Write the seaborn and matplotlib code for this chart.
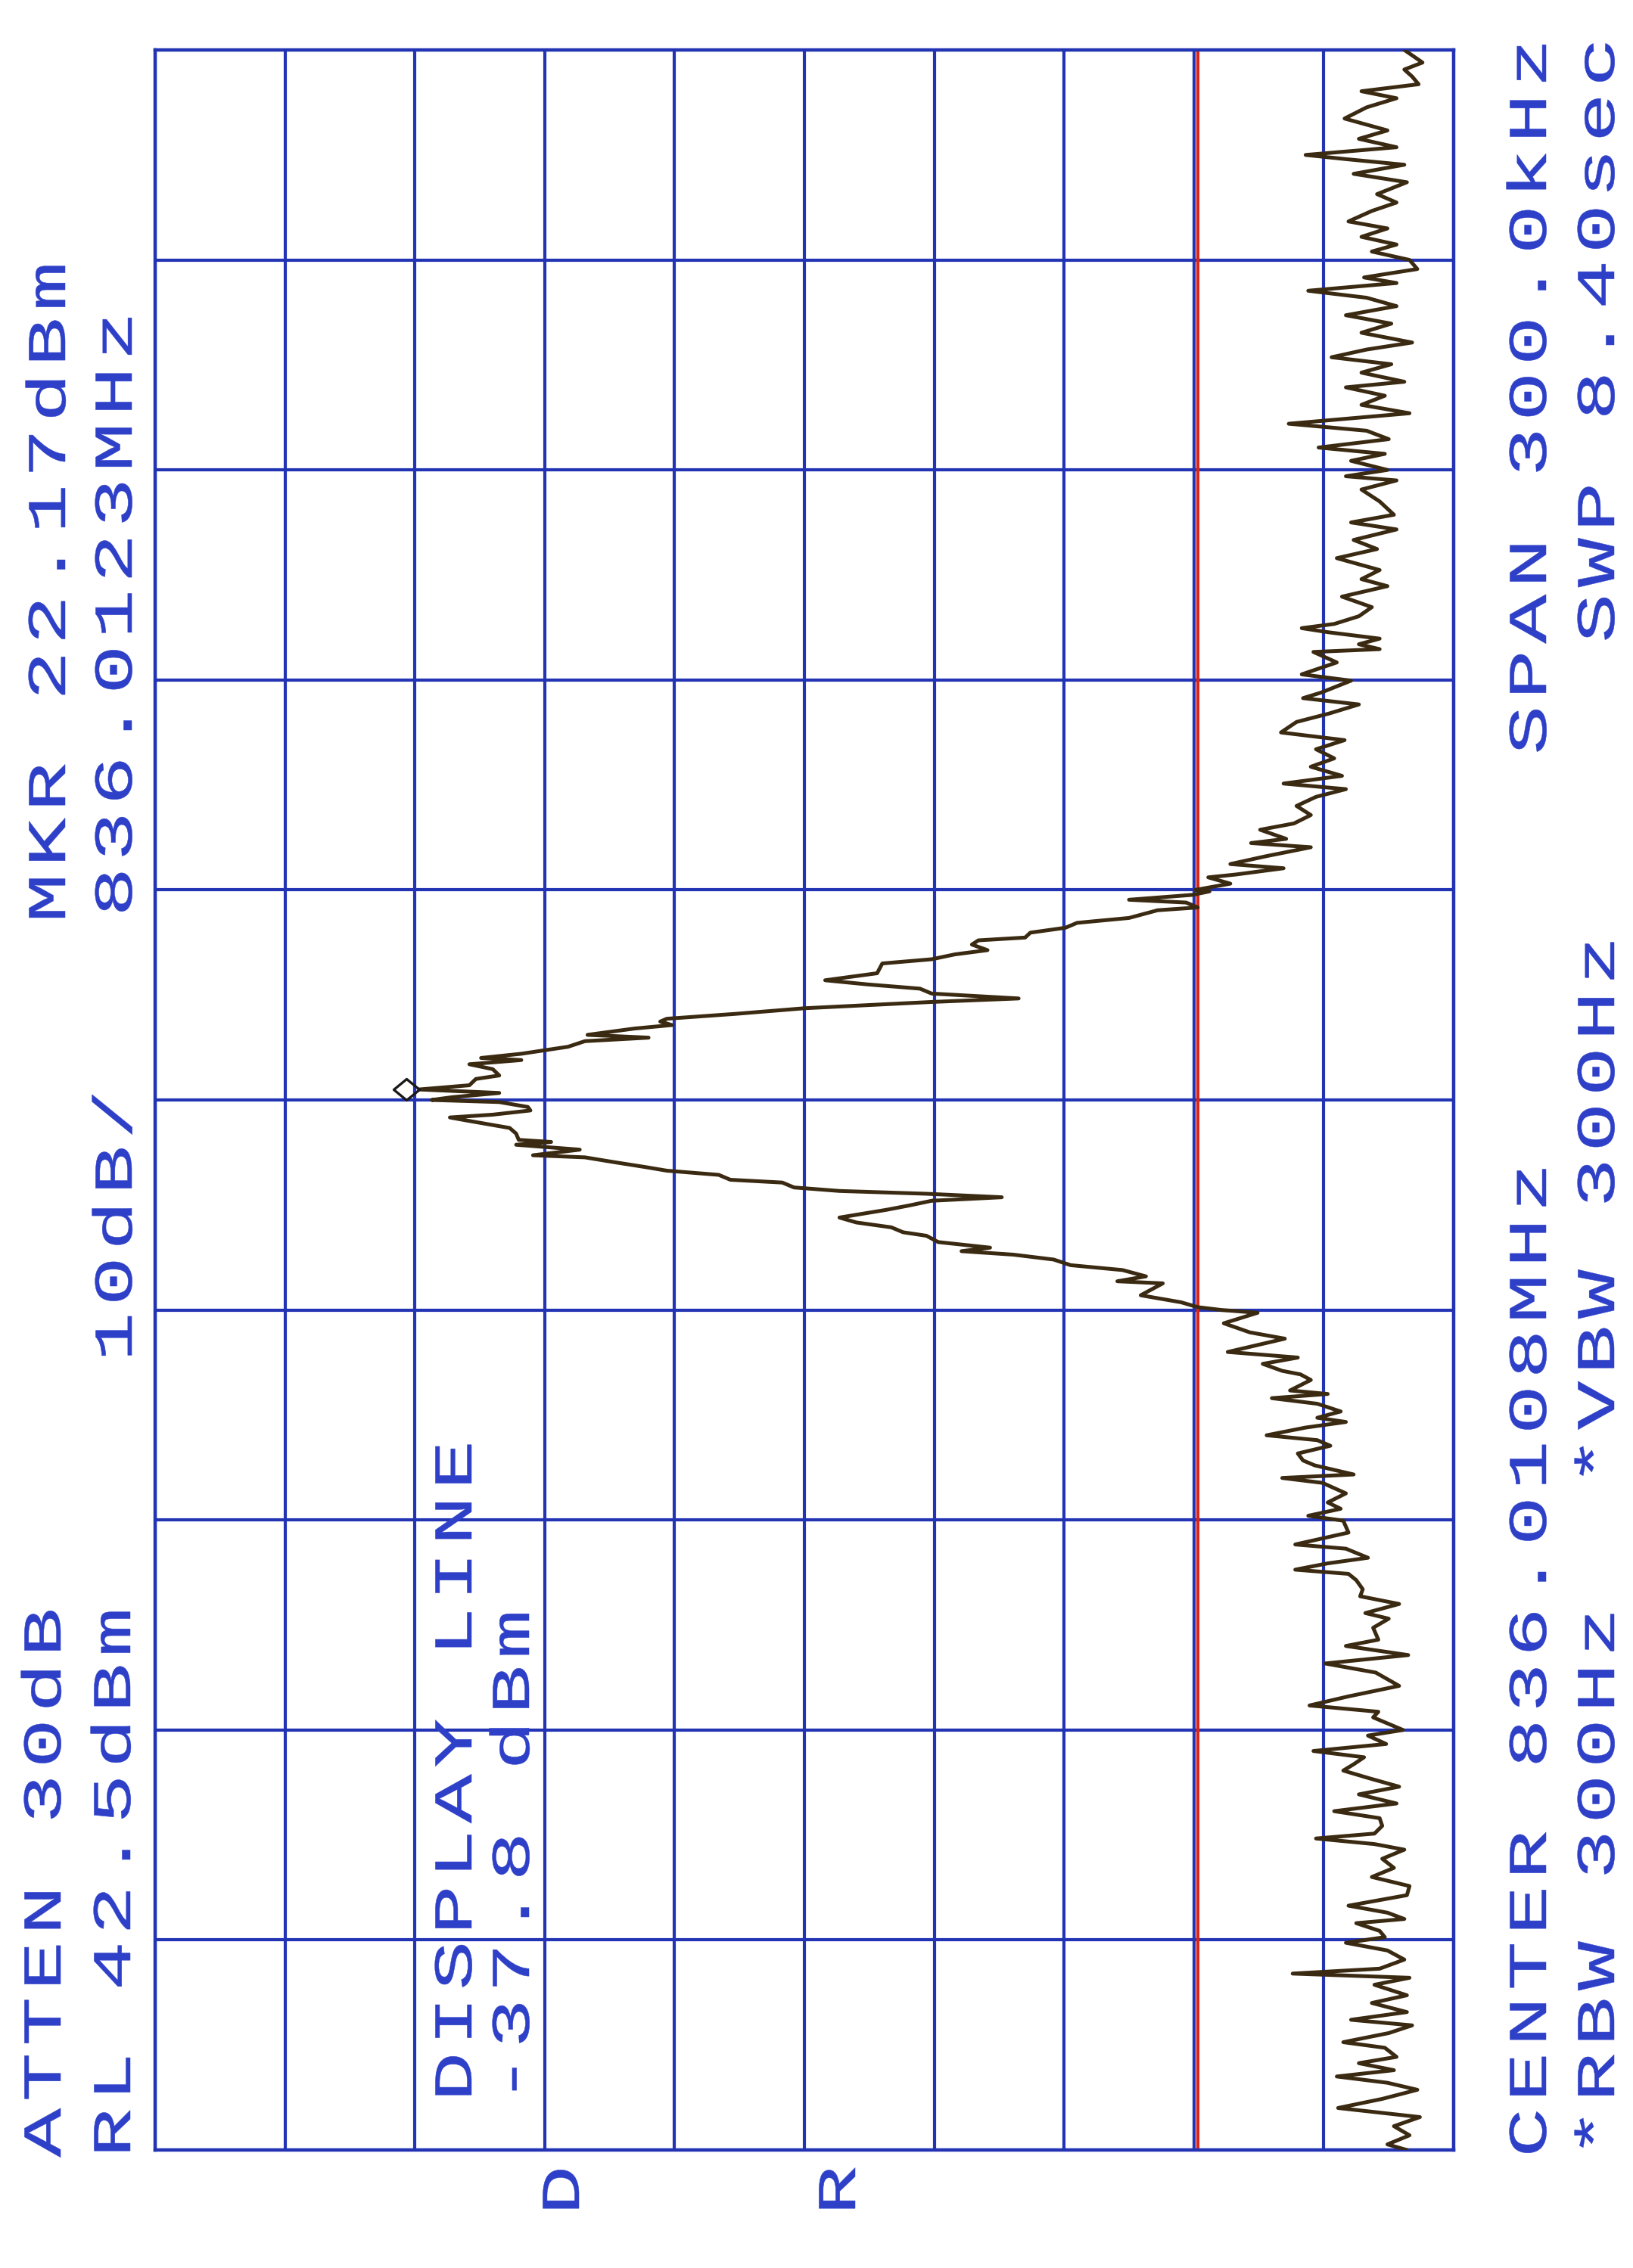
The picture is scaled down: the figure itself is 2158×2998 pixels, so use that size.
import numpy as np
import pandas as pd
import seaborn as sns
import matplotlib
matplotlib.use('Agg')
import matplotlib.pyplot as plt
from matplotlib.patheffects import AbstractPathEffect
from matplotlib.path import Path
from matplotlib.textpath import TextToPath

# analyzer settings
ref_level = 42.5        # dBm (RL)
db_per_div = 10
atten_db = 30
center_mhz = 836.0108
span_khz = 300.0
display_line = -37.8    # dBm
mkr_level = 22.17       # dBm
mkr_mhz = 836.0123
rbw_hz = 300
vbw_hz = 300
sweep_s = 8.40

# trace: offset from center (kHz) and level (dBm) top to bottom
freq_khz = [
    150.0, 148.2, 147.2, 146.2, 145.1, 144.1, 143.1, 141.8, 140.2, 138.5,
    137.3, 136.1, 135.0, 134.4, 133.6, 132.3, 131.1, 129.4, 128.2, 127.0,
    125.5, 124.5, 123.3, 122.2, 121.2, 120.0, 118.7, 117.5, 116.7, 115.6,
    114.6, 113.4, 112.1, 110.9, 109.6, 108.2, 107.2, 106.1, 105.1, 103.9,
    102.6, 101.8, 100.6, 99.3, 98.1, 96.6, 95.6, 94.4, 93.2, 92.3,
    91.3, 90.0,
    89.1, 88.5, 87.2, 85.5, 83.6, 82.5, 81.5, 80.0, 78.7, 77.4,
    75.7, 74.4, 73.4, 71.9, 70.4, 69.1, 68.0, 67.4, 66.8, 65.9,
    65.1, 64.4, 64.0, 62.5, 60.8, 59.9, 58.2, 57.4, 56.5, 55.2,
    54.0, 52.5, 51.4, 50.1, 48.8, 47.6, 46.3, 45.2, 44.4, 43.3,
    42.0, 40.7, 39.5, 38.6, 37.3, 36.7, 36.1, 34.8, 33.7, 33.1,
    32.2, 31.8, 30.9, 30.0,
    29.8, 29.3, 28.6, 28.2, 27.5, 27.1, 26.0, 25.3, 24.6, 23.9,
    23.2, 22.8, 22.2, 21.4, 20.8, 20.1, 19.5, 18.1, 17.1, 16.5,
    15.9, 15.2, 14.5, 14.0, 13.1, 12.3, 11.6, 11.2, 10.7, 10.2,
    9.3, 8.9, 8.4, 7.6, 6.6, 6.0, 5.7, 5.1, 4.4, 3.5,
    3.0, 2.1, 1.5, 1.0, 0.4, 0.0, -0.3, -1.0,
    -1.5, -2.1, -2.5, -3.0, -4.0, -4.8, -5.7, -6.0, -6.4, -7.1,
    -7.9, -8.2, -8.9, -9.6, -10.1, -10.7, -11.4, -11.8, -12.5, -13.0,
    -13.4, -13.9, -14.4, -15.1, -15.7, -16.8, -17.5, -18.2, -18.9, -19.4,
    -20.3, -21.1, -21.6, -22.1, -22.8, -23.6, -24.3, -25.2, -25.9, -26.2,
    -27.1, -27.9, -28.9, -29.6,
    -30.0, -30.4, -31.9, -33.2, -34.1, -36.0, -36.8, -37.7, -38.7, -39.2,
    -40.0, -41.5, -42.0, -42.6, -43.4, -44.5, -45.4, -46.0, -46.8, -47.9,
    -48.6, -49.4, -50.5, -51.5, -52.2, -53.5, -54.0, -54.7, -56.2, -57.5,
    -58.4, -59.4, -60.1, -61.8, -63.5, -64.1, -65.4, -66.2, -67.1, -67.7,
    -68.6, -69.9, -70.9, -72.0, -73.3, -74.1, -75.4, -77.1, -78.0, -79.3,
    -80.5, -81.8, -83.7, -85.2, -86.5, -87.4, -88.2, -89.3, -90.0, -90.8,
    -92.0,
    -93.0, -93.9, -94.9, -95.8, -96.9, -98.1, -99.2, -100.5, -101.6, -102.6,
    -103.7, -104.8, -105.5, -106.3, -107.1, -108.4, -109.7, -111.0, -112.3, -113.6,
    -115.1, -116.1, -117.0, -117.6, -118.7, -119.6, -120.4, -121.5, -122.8, -124.1,
    -124.8, -125.4, -126.4, -127.9, -129.0, -130.3, -131.4, -132.2, -133.3, -134.6,
    -135.4, -136.7, -137.6, -138.6, -139.5, -140.4, -141.4, -142.7, -144.0, -145.3,
    -146.6, -147.9, -149.2, -150.0,
]
level_dbm = [
    -53.7, -55.1, -53.7, -54.3, -54.8, -50.4, -53.1, -50.8, -49.1, -52.4,
    -50.2, -53.1, -46.1, -49.2, -53.7, -49.8, -53.9, -51.6, -53.1, -51.2,
    -49.4, -52.4, -50.4, -53.1, -51.2, -54.1, -54.7, -50.6, -53.1, -46.3,
    -50.8, -53.1, -49.2, -52.7, -50.4, -54.3, -50.8, -48.1, -52.7, -50.4,
    -53.7, -49.2, -52.2, -50.4, -54.1, -44.8, -50.8, -52.5, -47.1, -52.2,
    -49.6, -52.4,
    -49.2, -53.1, -50.4, -51.8, -52.9, -49.6, -53.1, -49.8, -51.6, -48.5,
    -51.8, -50.4, -52.4, -48.9, -51.2, -50.2, -48.3, -45.8, -47.9, -51.8,
    -50.2, -51.8, -46.7, -48.5, -45.8, -49.6, -47.3, -45.9, -50.2, -47.9,
    -45.4, -44.2, -49.1, -46.9, -48.3, -46.5, -48.9, -44.4, -49.2, -46.9,
    -45.4, -46.5, -45.2, -42.6, -44.6, -41.9, -46.5, -43.0, -40.3, -44.4,
    -40.7, -38.6, -40.3, -37.6,
    -38.7, -37.4, -32.5, -36.9, -37.8, -34.7, -32.5, -28.5, -27.6, -24.9,
    -24.5, -20.9, -20.4, -21.6, -19.1, -17.3, -13.5, -13.1, -9.1, -12.4,
    -16.4, -17.3, -24.0, -17.3, -7.5, -2.2, 3.1, 3.6, 2.7, 5.6,
    9.2, 4.5, 9.4, 10.7, 14.3, 17.4, 14.3, 18.3, 16.5, 16.0,
    17.8, 18.3, 22.17, 16.0, 19.6, 21.2, 16.0, 13.8,
    13.6, 16.5, 19.8, 18.3, 15.2, 14.7, 14.5, 12.0, 14.7, 9.8,
    13.4, 9.4, 7.1, 4.7, 3.1, -0.9, -1.8, -5.8, -6.7, -10.2,
    -16.9, -22.7, -17.3, -15.5, -13.8, -10.2, -11.5, -14.2, -15.1, -16.9,
    -17.8, -21.8, -19.6, -23.6, -26.7, -28.0, -32.0, -33.8, -31.6, -35.1,
    -34.2, -33.4, -36.5, -37.8,
    -39.6, -42.4, -39.8, -41.8, -44.5, -40.1, -45.5, -42.8, -44.3, -45.7,
    -46.5, -44.9, -47.8, -43.5, -47.0, -48.8, -47.0, -49.2, -46.1, -43.1,
    -47.0, -48.0, -45.5, -45.9, -46.8, -49.8, -44.3, -47.4, -49.2, -47.8,
    -48.8, -46.3, -49.0, -49.4, -45.3, -49.2, -50.9, -47.8, -45.3, -49.4,
    -50.0, -50.5, -50.3, -53.3, -50.7, -52.5, -51.3, -51.7, -49.2, -54.0,
    -47.6, -51.5, -53.3, -49.4, -46.4, -51.7, -51.3, -52.7, -53.6, -50.9,
    -52.3,
    -46.7, -50.6, -49.8, -49.0, -51.0, -53.3, -50.2, -53.1, -48.3, -51.8,
    -52.0, -51.4, -46.9, -51.4, -53.7, -52.0, -52.9, -51.2, -54.1, -53.9,
    -49.4, -52.4, -53.7, -50.0, -51.8, -52.2, -49.2, -52.4, -53.7, -51.8,
    -45.1, -54.1, -51.4, -53.9, -51.2, -53.9, -49.6, -54.3, -52.5, -49.0,
    -52.2, -53.1, -50.2, -52.9, -48.5, -52.4, -54.7, -52.0, -48.6, -54.9,
    -52.9, -54.1, -52.4, -53.9,
]

grid_col = '#2233b4'
text_col = '#2e40c8'
trace_col = '#3b2a12'
line_red = '#d8261c'

sns.set_theme(style='white')
plt.rcParams['font.family'] = ['Liberation Mono', 'DejaVu Sans Mono']

W, H = 2158, 2998
fig = plt.figure(figsize=(W / 100, H / 100), dpi=100)
fig.patch.set_facecolor('white')

# grid box in pixels: left 205, right 1921, top 66, bottom 2842
ax = fig.add_axes([205 / W, 1 - 2842 / H, (1921 - 205) / W, (2842 - 66) / H])
ax.set_facecolor('white')

df = pd.DataFrame({'freq': freq_khz, 'level': level_dbm})
sns.lineplot(data=df, x='level', y='freq', sort=False, estimator=None, orient='y',
             color=trace_col, linewidth=3.6, ax=ax, zorder=3)

ax.set_xlim(ref_level, ref_level - 10 * db_per_div)
ax.set_ylim(-span_khz / 2, span_khz / 2)
ax.set_xticks(ref_level - db_per_div * np.arange(11))
ax.set_yticks(np.linspace(-span_khz / 2, span_khz / 2, 11))
ax.tick_params(length=0, labelbottom=False, labelleft=False)
ax.set_xlabel('')
ax.set_ylabel('')
ax.grid(True, color=grid_col, linewidth=3.0)
ax.set_axisbelow(True)
for sp in ax.spines.values():
    sp.set_color(grid_col)
    sp.set_linewidth(3.2)

ax.axvline(display_line, color=line_red, linewidth=3.0, zorder=2)

# marker diamond sits to the left of the peak point
diamond = Path([(0, 0), (-17, 14), (-34, 0), (-17, -14), (0, 0)],
               [Path.MOVETO, Path.LINETO, Path.LINETO, Path.LINETO, Path.CLOSEPOLY])
mkr_khz = (mkr_mhz - center_mhz) * 1000
ax.plot([mkr_level], [mkr_khz], marker=diamond, markersize=49, mfc='none',
        mec='#1a1a1a', mew=2.4, linestyle='none', zorder=4)


class PlotterFont(AbstractPathEffect):
    # spread monospaced glyphs to the plotter pitch, widen each glyph a bit
    # and give the strokes a little more weight
    def __init__(self, spread, widen, stroke):
        super().__init__((0, 0))
        self.spread = spread
        self.widen = widen
        self.stroke = stroke

    def draw_path(self, renderer, gc, tpath, affine, rgbFace=None):
        adv = 0.6 * TextToPath.FONT_SCALE
        verts = tpath.vertices.copy()
        codes = tpath.codes
        if codes is None:
            renderer.draw_path(gc, tpath, affine, rgbFace)
            return
        starts = list(np.where(codes == Path.MOVETO)[0]) + [len(verts)]
        for a, b in zip(starts[:-1], starts[1:]):
            keep = codes[a:b] != Path.CLOSEPOLY
            xs = verts[a:b, 0][keep]
            if len(xs) == 0:
                continue
            cell = np.floor(0.5 * (xs.min() + xs.max()) / adv)
            mid = (cell + 0.5) * adv
            verts[a:b, 0] = mid * self.spread + (verts[a:b, 0] - mid) * self.widen
        gc0 = renderer.new_gc()
        gc0.copy_properties(gc)
        gc0.set_linewidth(self.stroke)
        gc0.set_foreground(rgbFace)
        gc0.set_joinstyle('round')
        renderer.draw_path(gc0, Path(verts, codes), affine, rgbFace)
        gc0.restore()


font_pt = 52
em_px = font_pt * 100 / 72
spread = 73.5 / (0.6 * em_px)


def label(x, y, s):
    # x = baseline position, y = where the text starts (pixels from top)
    fig.text(x / W, 1 - y / H, s, rotation=90, rotation_mode='anchor',
             ha='left', va='baseline', fontsize=font_pt, color=text_col,
             path_effects=[PlotterFont(spread, 1.5, 0.35)])


label(80, 2856, f'ATTEN {atten_db}dB')
label(172, 2856, f'RL {ref_level}dBm')
label(86, 1224, f'MKR {mkr_level:.2f}dBm')
label(174, 1216, f'{mkr_mhz:.4f}MHz')
label(174, 1804, f'{db_per_div}dB/')
label(623, 2782, 'DISPLAY LINE')
label(699, 2785, f'{display_line} dBm')
label(2043, 2856, f'CENTER {center_mhz:.4f}MHz')
label(2043, 1002, f'SPAN {span_khz:.1f}kHz')
label(2133, 2856, f'*RBW {rbw_hz}Hz')
label(2133, 1968, f'*VBW {vbw_hz}Hz')
label(2133, 854, f'SWP {sweep_s:.2f}sec')
label(765, 2932, 'D')
label(1130, 2932, 'R')

fig.savefig('out.png', dpi=100, facecolor='white')
